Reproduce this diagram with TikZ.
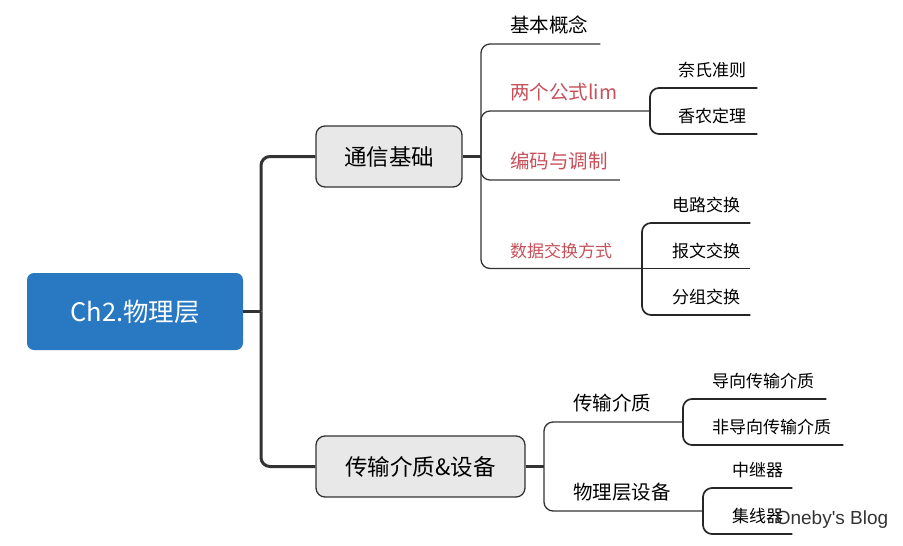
\documentclass[tikz,border=0pt]{standalone}
\usepackage{fontspec}
\setmainfont{Noto Sans CJK SC}
\newfontfamily\markfont{Liberation Sans}
\usetikzlibrary{positioning}
\definecolor{rootblue}{HTML}{2878C2}
\definecolor{topicgray}{HTML}{E8E8E8}
\definecolor{linegray}{HTML}{333333}
\definecolor{keyred}{HTML}{C8505A}

\begin{document}
\begin{tikzpicture}[x=1pt, y=-1pt,
  root/.style={fill=rootblue, text=white, rounded corners=7pt,
    minimum width=216pt, minimum height=77pt, font=\fontsize{25.5}{30}\selectfont},
  topic/.style={draw=linegray, line width=1.3pt, fill=topicgray, rounded corners=9pt,
    minimum height=61pt, font=\fontsize{22.5}{26}\selectfont},
  leaf/.style={anchor=south west, inner xsep=0pt, inner ysep=9pt, text depth=2pt,
    font=\fontsize{19.5}{23}\selectfont},
  subleaf/.style={leaf, font=\fontsize{17}{20}\selectfont},
  key/.style={text=keyred},
  trunk/.style={draw=linegray, line width=3pt, rounded corners=9pt},
  twig/.style={draw=linegray, line width=1.3pt, rounded corners=9pt},
  tip/.style={draw=black!85, line width=1.7pt, rounded corners=9pt}]
\useasboundingbox (0,0) rectangle (903,546);

% main topics
\node[root] (phys) at (135,311.5) {Ch2.物理层};
\node[topic, minimum width=146pt] (comm) at (389,156.5) {通信基础};
\node[topic, minimum width=209pt] (media) at (420.5,466.5) {传输介质\&设备};

\coordinate (j0) at (261,311.5);
\draw[trunk] (phys.east) -- (j0);
\draw[trunk] (j0) |- (comm.west);
\draw[trunk] (j0) |- (media.west);

% 通信基础
\coordinate (j1) at (481,156.5);
\draw[trunk] (comm.east) -- (j1);
\node[leaf] (basic) at (510,44) {基本概念};
\node[leaf, key] (lim) at (510,111) {两个公式lim};
\node[leaf, key] (codec) at (510,180) {编码与调制};
\node[subleaf, key] (switch) at (510,268.5) {数据交换方式};
\coordinate (j2) at (650,111);
\coordinate (j3) at (642,268.5);
\draw[twig] (j1) |- (basic.south east) -- ++(12,0);
\draw[twig] (j1) |- (lim.south east) -- (j2);
\draw[twig] (j1) |- (codec.south east) -- ++(12,0);
\draw[twig] (j1) |- (switch.south east) -- (j3);

\node[subleaf] (nyq) at (678,88) {奈氏准则};
\node[subleaf] (shan) at (678,134) {香农定理};
\draw[tip] (j2) |- (nyq.south east) -- ++(11,0);
\draw[tip] (j2) |- (shan.south east) -- ++(11,0);

\node[subleaf] (circ) at (672,223) {电路交换};
\node[subleaf] (msg) at (672,268.5) {报文交换};
\node[subleaf] (pkt) at (672,315) {分组交换};
\draw[tip] (j3) |- (circ.south east) -- ++(10,0);
\draw[tip] (j3) -- (msg.south east) -- ++(10,0);
\draw[tip] (j3) |- (pkt.south east) -- ++(10,0);

% 传输介质&设备
\coordinate (j4) at (544,466.5);
\draw[trunk] (media.east) -- (j4);
\node[leaf] (chan) at (573,422) {传输介质};
\node[leaf] (dev) at (573,511) {物理层设备};
\coordinate (j5) at (683,422);
\coordinate (j6) at (703,511);
\draw[twig] (j4) |- (chan.south east) -- (j5);
\draw[twig] (j4) |- (dev.south east) -- (j6);

\node[subleaf] (guided) at (712,399) {导向传输介质};
\node[subleaf] (unguided) at (712,445) {非导向传输介质};
\draw[tip] (j5) |- (guided.south east) -- ++(12,0);
\draw[tip] (j5) |- (unguided.south east) -- ++(12,0);

\node[subleaf] (rep) at (732,488) {中继器};
\node[subleaf] (hub) at (732,534) {集线器};
\draw[tip] (j6) |- (rep.south east) -- ++(9,0);
\draw[tip] (j6) |- (hub.south east) -- ++(9,0);

\node[font=\markfont\fontsize{19}{22}\selectfont, text=black!80] (mark) at (832,520) {Oneby's Blog};
\end{tikzpicture}
\end{document}
